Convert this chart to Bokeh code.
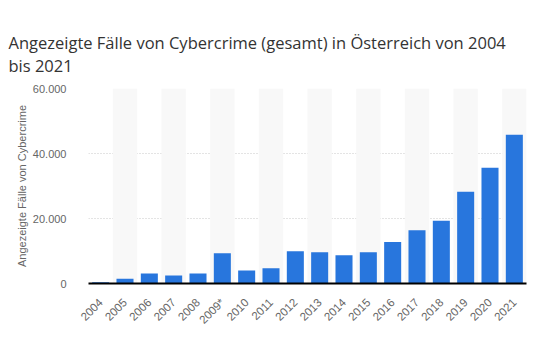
from bokeh.plotting import figure
from bokeh.models import FixedTicker, ColumnDataSource, Title
from bokeh.embed import file_html
from bokeh.resources import INLINE
import math

years = ["2004", "2005", "2006", "2007", "2008", "2009*", "2010", "2011", "2012",
         "2013", "2014", "2015", "2016", "2017", "2018", "2019", "2020", "2021"]
cases = [400, 1500, 3100, 2500, 3100, 9300, 4000, 4700, 9900,
         9600, 8700, 9600, 12800, 16400, 19300, 28200, 35600, 45800]
y_ticks = [0, 20000, 40000, 60000]
y_tick_labels = ["0", "20.000", "40.000", "60.000"]
y_max = 60000

FONT = "Open Sans"
AXFONT = "Liberation Sans"

p = figure(width=537, height=344, x_range=years, y_range=(0, y_max),
           output_backend="svg", toolbar_location=None, tools="",
           min_border_left=88, min_border_right=11, min_border_top=88,
           min_border_bottom=61)
p.outline_line_color = None

# alternating background bands
band_years = years[1::2]
p.vbar(x=band_years, top=[y_max] * len(band_years), bottom=0, width=1.0,
       fill_color="#f8f8f8", line_color=None)

src = ColumnDataSource(dict(x=years, y=cases))
p.vbar(x="x", top="y", source=src, width=0.7, fill_color="#2876dd", line_color=None)

# grid
p.xgrid.grid_line_color = None
p.ygrid.grid_line_color = "#c8c8c8"
p.ygrid.grid_line_dash = "1 2"
p.ygrid.grid_line_width = 1
p.ygrid.ticker = FixedTicker(ticks=y_ticks[1:])

# y axis
p.yaxis.ticker = FixedTicker(ticks=y_ticks)
p.yaxis.major_label_overrides = {t: l for t, l in zip(y_ticks, y_tick_labels)}
p.yaxis.axis_line_color = None
p.yaxis.major_tick_line_color = None
p.yaxis.minor_tick_line_color = None
p.yaxis.major_label_standoff = 16
p.yaxis.major_label_text_font = AXFONT
p.yaxis.major_label_text_font_size = "11px"
p.yaxis.major_label_text_color = "#666666"
p.yaxis.axis_label = "Angezeigte Fälle von Cybercrime"
p.yaxis.axis_label_text_font = AXFONT
p.yaxis.axis_label_text_font_size = "11px"
p.yaxis.axis_label_text_font_style = "normal"
p.yaxis.axis_label_text_color = "#666666"
p.yaxis.axis_label_standoff = 2

# x axis
p.xaxis.axis_line_color = "#000000"
p.xaxis.axis_line_width = 2
p.xaxis.major_tick_line_color = None
p.xaxis.minor_tick_line_color = None
p.xaxis.major_label_orientation = math.pi / 4
p.xaxis.major_label_text_font = AXFONT
p.xaxis.major_label_text_font_size = "11.5px"
p.xaxis.major_label_text_color = "#666666"
p.xaxis.major_label_standoff = 11

# invisible spacer between plot frame and the title
spacer = Title(text=".", text_font=FONT, text_font_size="20px", text_alpha=0,
               standoff=0, align="left")
p.add_layout(spacer, "above")

title = Title(text="Angezeigte Fälle von Cybercrime (gesamt) in Österreich von 2004\nbis 2021",
              text_font=FONT, text_font_size="16.5px", text_font_style="normal",
              text_color="#333333", align="left", offset=-80,
              vertical_align="top", standoff=20)
p.add_layout(title, "above")

open("out.html", "w").write(file_html(p, INLINE))
